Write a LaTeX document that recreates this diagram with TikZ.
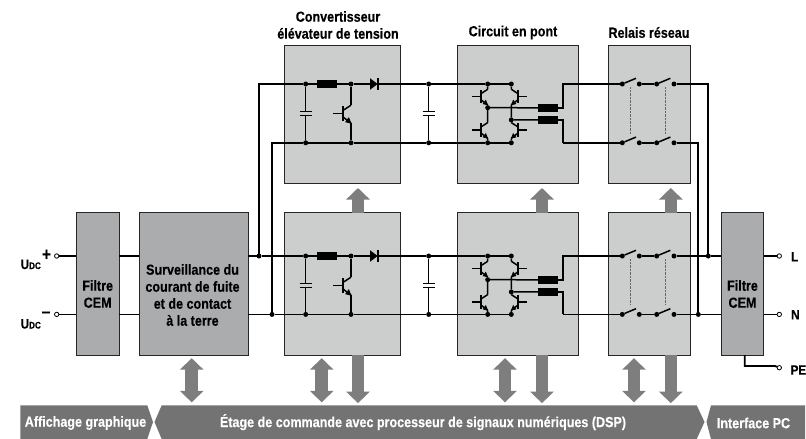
\documentclass[tikz,border=0pt]{standalone}
\usepackage{fontspec}
\setmainfont{Liberation Sans}[FakeStretch=0.86,BoldFeatures={FakeBold=0.25}]
\usetikzlibrary{arrows.meta}
\definecolor{boxlight}{HTML}{CCCDCD}
\definecolor{boxdark}{HTML}{ABACAE}
\definecolor{arrowgray}{HTML}{7E7E7E}
\definecolor{bandgray}{HTML}{737373}
\tikzset{
  wire/.style={line width=1.8pt,draw=black,line join=miter},
  thinwire/.style={line width=1.5pt,draw=black},
  dot/.style={circle,fill=black,draw=none,inner sep=0pt,minimum size=5pt,outer sep=0pt},
  term/.style={circle,fill=white,draw=black,line width=.8pt,inner sep=0pt,minimum size=4.4pt,outer sep=0pt},
  coil/.style={rectangle,fill=black,draw=none,inner sep=0pt,outer sep=0pt,minimum width=20pt,minimum height=8pt},
  lightbox/.style={rectangle,fill=boxlight,draw=black!85,line width=.9pt,inner sep=0pt,outer sep=0pt,anchor=north west},
  darkbox/.style={rectangle,fill=boxdark,draw=black!85,line width=.9pt,inner sep=0pt,outer sep=0pt,anchor=north west},
  lbl/.style={font=\fontsize{14.6}{17}\selectfont\bfseries,align=center,inner sep=0pt,text=black},
  bandlbl/.style={font=\fontsize{14.6}{16}\selectfont\bfseries,inner sep=0pt,text=white},
  bandshape/.style={fill=bandgray,draw=none},
  bigarrow/.style={draw=arrowgray,line width=12.5pt,-{Triangle[width=23pt,length=11.5pt]}},
  bigdouble/.style={draw=arrowgray,line width=12.5pt,{Triangle[width=23pt,length=11.5pt]}-{Triangle[width=23pt,length=11.5pt]}},
  dotted link/.style={draw=black!60,line width=1pt,dash pattern=on .8pt off .6pt},
  pics/npn/.style={code={
    \draw[thinwire] (-10,0) -- (0,0);
    \draw[line width=1.8pt] (0,-7.5) -- (0,7.5);
    \coordinate (-c) at (7.7,-8.5);
    \coordinate (-e) at (7.7,9.5);
    \draw[thinwire] (0,-3.5) -- (-c);
    \draw[thinwire] (0,3.5) -- (-e);
    \fill (8.2,10) -- (1.8,8.4) -- (5.6,3.4) -- cycle;
  }},
}
\newcommand{\powerrow}[3]{%
  % #1 prefix, #2 upper rail y, #3 lower rail y
  \node[dot] (#1a) at (305.7,#2) {};
  \node[dot] (#1A) at (305.7,#3) {};
  \node[coil] (#1L) at (327,#2) {};
  \node[dot] (#1b) at (351,#2) {};
  \node[dot] (#1B) at (351,#3) {};
  \coordinate (#1dk) at (370,#2);
  \coordinate (#1dt) at (378,#2);
  \node[dot] (#1c) at (428.7,#2) {};
  \node[dot] (#1C) at (428.7,#3) {};
  \node[dot] (#1d) at (487.7,#2) {};
  \node[dot] (#1D) at (487.7,#3) {};
  \node[dot] (#1e) at (511.3,#2) {};
  \node[dot] (#1E) at (511.3,#3) {};
  \node[dot] (#1m) at (487.7,#2+23.7) {};
  \node[dot] (#1n) at (511.3,#2+35.9) {};
  \node[coil] (#1P) at (548,#2+23.8) {};
  \node[coil] (#1Q) at (548,#2+36) {};
  \coordinate (#1u) at (563.3,#2);
  \coordinate (#1v) at (563.3,#3);
  \node[dot] (#1r) at (622.3,#2) {};
  \node[dot] (#1s) at (639.3,#2) {};
  \node[dot] (#1t) at (656.7,#2) {};
  \node[dot] (#1w) at (674,#2) {};
  \node[dot] (#1R) at (622.3,#3) {};
  \node[dot] (#1S) at (639.3,#3) {};
  \node[dot] (#1T) at (656.7,#3) {};
  \node[dot] (#1W) at (674,#3) {};
  % rails
  \draw[wire] (#1a) -- (#1L) -- (#1b) -- (#1dk) (#1dt) -- (#1c) -- (#1d) -- (#1e);
  \draw[wire] (#1A) -- (#1B) -- (#1C) -- (#1D) -- (#1E);
  % diode
  \fill (#1dk) ++(0,-5.8) -- ++(7.6,5.8) -- ++(-7.6,5.8) -- cycle;
  \draw[line width=1.3pt] (#1dt) ++(0,-6) -- ++(0,12);
  % capacitors
  \foreach \cx/\cu/\cd in {305.7/#1a/#1A,428.7/#1c/#1C}{
    \draw[thinwire] (\cu) -- (\cx,#2+27.3);
    \draw[thinwire] (\cd) -- (\cx,#2+31.3);
    \draw[thinwire] (\cx-6,#2+27.3) -- (\cx+6,#2+27.3);
    \draw[thinwire] (\cx-6,#2+31.3) -- (\cx+6,#2+31.3);
  }
  % boost transistor
  \pic (#1q) at (343.3,#2+29.7) {npn};
  \draw[thinwire] (#1b) -- (#1q-c);
  \draw[thinwire] (#1B) -- (#1q-e);
  % bridge transistors
  \pic[scale=.87] (#1k) at (481,#2+12.7) {npn};
  \pic[scale=.87] (#1l) at (481,#2+46) {npn};
  \pic[scale=.87,xscale=-1] (#1o) at (518,#2+12.7) {npn};
  \pic[scale=.87,xscale=-1] (#1p) at (518,#2+46) {npn};
  \draw[thinwire] (#1d) -- (#1k-c) (#1k-e) -- (#1m) -- (#1l-c) (#1l-e) -- (#1D);
  \draw[thinwire] (#1e) -- (#1o-c) (#1o-e) -- (#1n) -- (#1p-c) (#1p-e) -- (#1E);
  % bridge outputs
  \draw[thinwire] (#1m) -- (#1P);
  \draw[thinwire] (#1n) -- (#1Q);
  \draw[wire] (#1P) -| (#1u) -- (#1r);
  \draw[wire] (#1Q) -| (#1v);
  \draw[wire] (#1v) -- (#1R);
  % relay contacts
  \draw[wire] (#1s) -- (#1t);
  \draw[wire] (#1S) -- (#1T);
  \foreach \ca in {#1r,#1t,#1R,#1T}{
    \draw[thinwire] (\ca) -- ++(13.7,-5.7);
  }
  \draw[dotted link] (630.3,#2+3) -- (630.3,#3-9.5);
  \draw[dotted link] (665,#2+3) -- (665,#3-9.5);
}
\begin{document}
\begin{tikzpicture}[x=1pt,y=-1pt]
\useasboundingbox (0,0) rectangle (806,439);
% bottom band
\fill[bandshape] (20.3,405.3) -- (147.3,405.3) -- (153,422) -- (147.3,439) -- (20.3,439) -- cycle;
\fill[bandshape] (161.7,405.3) -- (696.7,405.3) -- (704.5,422) -- (696.7,439) -- (161.7,439) -- (154.5,422) -- cycle;
\fill[bandshape] (711,405.3) -- (805,405.3) -- (805,439) -- (711,439) -- (706.5,422) -- cycle;
\node[bandlbl] (aff) at (85.5,423) {Affichage graphique};
\node[bandlbl,minimum height=33.7pt] (dsp) at (423,422.2) {Étage de commande avec processeur de signaux numériques (DSP)};
\node[bandlbl] (ipc) at (753.5,423) {Interface PC};
% boxes
\node[darkbox,minimum width=43pt,minimum height=142.7pt] (fl) at (76.3,212.5) {};
\node[darkbox,minimum width=109pt,minimum height=142.7pt] (surv) at (139,212.5) {};
\node[darkbox,minimum width=42.7pt,minimum height=142.7pt] (fr) at (721,212.5) {};
\node[lightbox,minimum width=116.7pt,minimum height=138pt] (Tboost) at (284,45) {};
\node[lightbox,minimum width=120.7pt,minimum height=138pt] (Tbridge) at (457.3,45) {};
\node[lightbox,minimum width=81.7pt,minimum height=138pt] (Trelay) at (608.3,45) {};
\node[lightbox,minimum width=116.7pt,minimum height=142.7pt] (Bboost) at (284,212.5) {};
\node[lightbox,minimum width=120.7pt,minimum height=142.7pt] (Bbridge) at (457.3,212.5) {};
\node[lightbox,minimum width=81.7pt,minimum height=142.7pt] (Brelay) at (608.3,212.5) {};
% grey arrows
\foreach \bx/\tx/\px in {Bboost/Tboost/358,Bbridge/Tbridge/542,Brelay/Trelay/670.8}{
  \draw[bigarrow,shorten >=5pt] (\px,0 |- \bx.north) -- (\px,0 |- \tx.south);
  \draw[bigarrow,shorten >=2pt] (\px,0 |- \bx.south) -- (\px,0 |- dsp.north);
}
\foreach \bx/\px in {surv/191.7,Bboost/321.7,Bbridge/505,Brelay/634}{
  \draw[bigdouble,shorten <=3pt,shorten >=2.8pt] (\px,0 |- \bx.south) -- (\px,0 |- dsp.north);
}
% circuit rows
\powerrow{T}{84}{142.8}
\powerrow{B}{256}{314.4}
% junctions and terminals
\node[dot] (jp) at (259,256) {};
\node[dot] (jm) at (272,314.4) {};
\node[dot] (kl) at (708.3,256) {};
\node[dot] (kn) at (698.3,314.4) {};
\node[term] (tp) at (56.7,256) {};
\node[term] (tm) at (56.7,314.4) {};
\node[term] (tl) at (779.3,256) {};
\node[term] (tn) at (779.3,314.4) {};
\node[term] (tpe) at (779.3,367.7) {};
\draw[wire] (tp) -- (fl.west|-tp);
\draw[wire] (tm) -- (fl.west|-tm);
\draw[wire] (fl.east|-tp) -- (surv.west|-tp);
\draw[wire] (fl.east|-tm) -- (surv.west|-tm);
\draw[wire] (surv.east|-tp) -- (jp) -- (Ba);
\draw[wire] (surv.east|-tm) -- (jm) -- (BA);
\draw[wire] (jp) |- (Ta);
\draw[wire] (jm) |- (TA);
\draw[wire] (Tw) -| (kl);
\draw[wire] (TW) -| (kn);
\draw[wire] (Bw) -- (kl) -- (fr.west|-kl);
\draw[wire] (BW) -- (kn) -- (fr.west|-kn);
\draw[wire] (fr.east|-tl) -- (tl);
\draw[wire] (fr.east|-tn) -- (tn);
\draw[wire] (744.7,355.2) |- (775,366) -- (tpe);
% labels
\node[lbl] (t1) at (338,25) {Convertisseur\\élévateur de tension};
\node[lbl] (t2) at (513,32.5) {Circuit en pont};
\node[lbl] (t3) at (649,32.5) {Relais réseau};
\node[lbl] (l1) at (97.7,294) {Filtre\\CEM};
\node[lbl] (l2) at (192.5,295) {Surveillance du\\courant de fuite\\et de contact\\à la terre};
\node[lbl] (l3) at (742.5,294) {Filtre\\CEM};
\node[lbl,anchor=base west] (u1) at (20.5,269) {\fontsize{13.5}{14}\selectfont U\fontsize{9.5}{12}\selectfont DC};
\node[lbl,anchor=base west] (u2) at (20.5,328.5) {\fontsize{13.5}{14}\selectfont U\fontsize{9.5}{12}\selectfont DC};
\node[lbl,font=\fontsize{18}{18}\selectfont\bfseries] (pl) at (46.5,255) {+};
\node[lbl,font=\fontsize{18}{18}\selectfont\bfseries] (mi) at (46,314.5) {–};
\node[lbl,anchor=west,font=\fontsize{13.5}{16}\selectfont\bfseries] (ll) at (791,256.8) {L};
\node[lbl,anchor=west,font=\fontsize{13.5}{16}\selectfont\bfseries] (ln) at (791,314.8) {N};
\node[lbl,anchor=west,font=\fontsize{13.5}{16}\selectfont\bfseries] (lpe) at (790.5,370) {PE};
\end{tikzpicture}
\end{document}
